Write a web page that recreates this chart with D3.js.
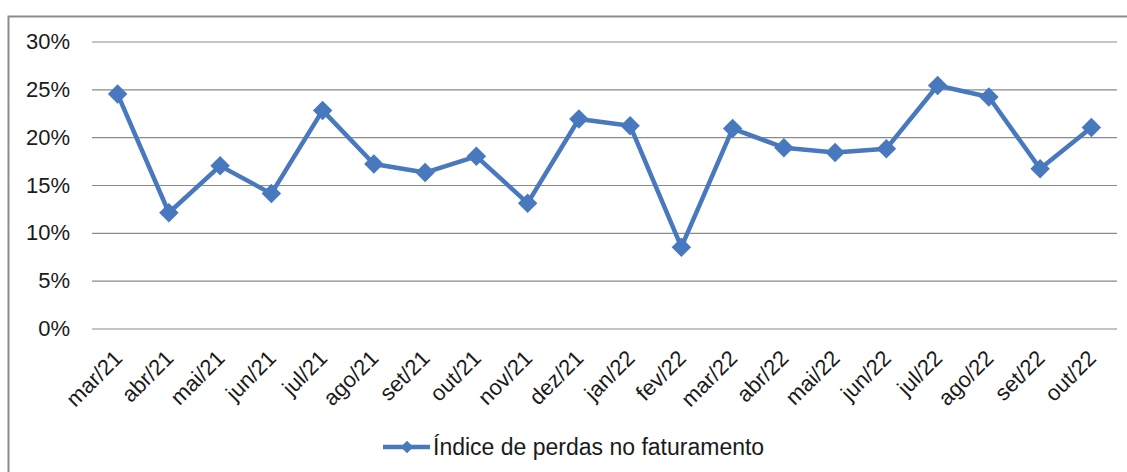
<!DOCTYPE html>
<html>
<head>
<meta charset="utf-8">
<script src="https://cdn.jsdelivr.net/npm/d3@7"></script>
<style>
  html, body { margin: 0; padding: 0; background: #fff; }
  svg { display: block; font-family: "Liberation Sans", Arial, sans-serif; }
</style>
</head>
<body>
<svg id="chart" width="1127" height="472"></svg>
<script>
const months = ["mar/21", "abr/21", "mai/21", "jun/21", "jul/21", "ago/21", "set/21", "out/21", "nov/21", "dez/21",
                "jan/22", "fev/22", "mar/22", "abr/22", "mai/22", "jun/22", "jul/22", "ago/22", "set/22", "out/22"];
const perdas = [24.5, 12.1, 17.0, 14.1, 22.8, 17.2, 16.3, 18.0, 13.1, 21.9,
                21.2, 8.5, 20.9, 18.9, 18.4, 18.8, 25.4, 24.2, 16.7, 21.0];
const yTicks = [0, 5, 10, 15, 20, 25, 30];
const seriesName = "Índice de perdas no faturamento";

const width = 1127;
const height = 472;
const margin = {left: 92, right: 10, top: 41.5, bottom: 143.5};
const color = "#4878bd";

const svg = d3.select("#chart");

// outer frame
svg.append("rect")
    .attr("x", 8.5).attr("y", 16.5)
    .attr("width", 1140).attr("height", 480)
    .attr("fill", "none")
    .attr("stroke", "#8c8c8c")
    .attr("stroke-width", 2);

const x = d3.scaleBand()
    .domain(months)
    .range([margin.left, width - margin.right]);

const y = d3.scaleLinear()
    .domain([0, 30])
    .range([height - margin.bottom, margin.top]);

// gridlines + y labels
const yAxis = svg.append("g")
    .attr("transform", `translate(${margin.left},0)`)
    .call(d3.axisLeft(y)
        .tickValues(yTicks)
        .tickSize(-(width - margin.left - margin.right))
        .tickPadding(22)
        .tickFormat(d => d + "%"));
yAxis.select(".domain").remove();
yAxis.selectAll(".tick line")
    .attr("stroke", "#8a8a8a")
    .attr("stroke-width", 1.2);
yAxis.selectAll(".tick text")
    .attr("fill", "#1a1a1a")
    .style("font-size", "22px");

// x labels
const xAxis = svg.append("g")
    .attr("transform", `translate(0,${y(0)})`)
    .call(d3.axisBottom(x).tickSize(0).tickPadding(0));
xAxis.select(".domain").remove();
xAxis.selectAll(".tick text")
    .attr("fill", "#1a1a1a")
    .style("font-size", "22px")
    .attr("text-anchor", "end")
    .attr("dy", "0")
    .attr("transform", "translate(6,31) rotate(-45)");

// line
const line = d3.line()
    .x((d, i) => x(months[i]) + x.bandwidth() / 2)
    .y(d => y(d));

svg.append("path")
    .datum(perdas)
    .attr("d", line)
    .attr("fill", "none")
    .attr("stroke", color)
    .attr("stroke-width", 4.5)
    .attr("stroke-linejoin", "round");

const diamond = d3.symbol().type(d3.symbolSquare).size(190);

svg.append("g")
    .selectAll("path")
    .data(perdas)
    .enter().append("path")
    .attr("d", diamond)
    .attr("fill", color)
    .attr("transform", (d, i) => `translate(${x(months[i]) + x.bandwidth() / 2},${y(d)}) rotate(45)`);

// legend
const legend = svg.append("g").attr("transform", "translate(383,447)");
legend.append("line")
    .attr("x1", 0).attr("x2", 47)
    .attr("stroke", color)
    .attr("stroke-width", 4.5);
legend.append("path")
    .attr("d", d3.symbol().type(d3.symbolSquare).size(80))
    .attr("fill", color)
    .attr("transform", "translate(24,0) rotate(45)");
legend.append("text")
    .attr("x", 50)
    .attr("dy", "0.35em")
    .attr("fill", "#1a1a1a")
    .style("font-size", "23px")
    .text(seriesName);
</script>
</body>
</html>
